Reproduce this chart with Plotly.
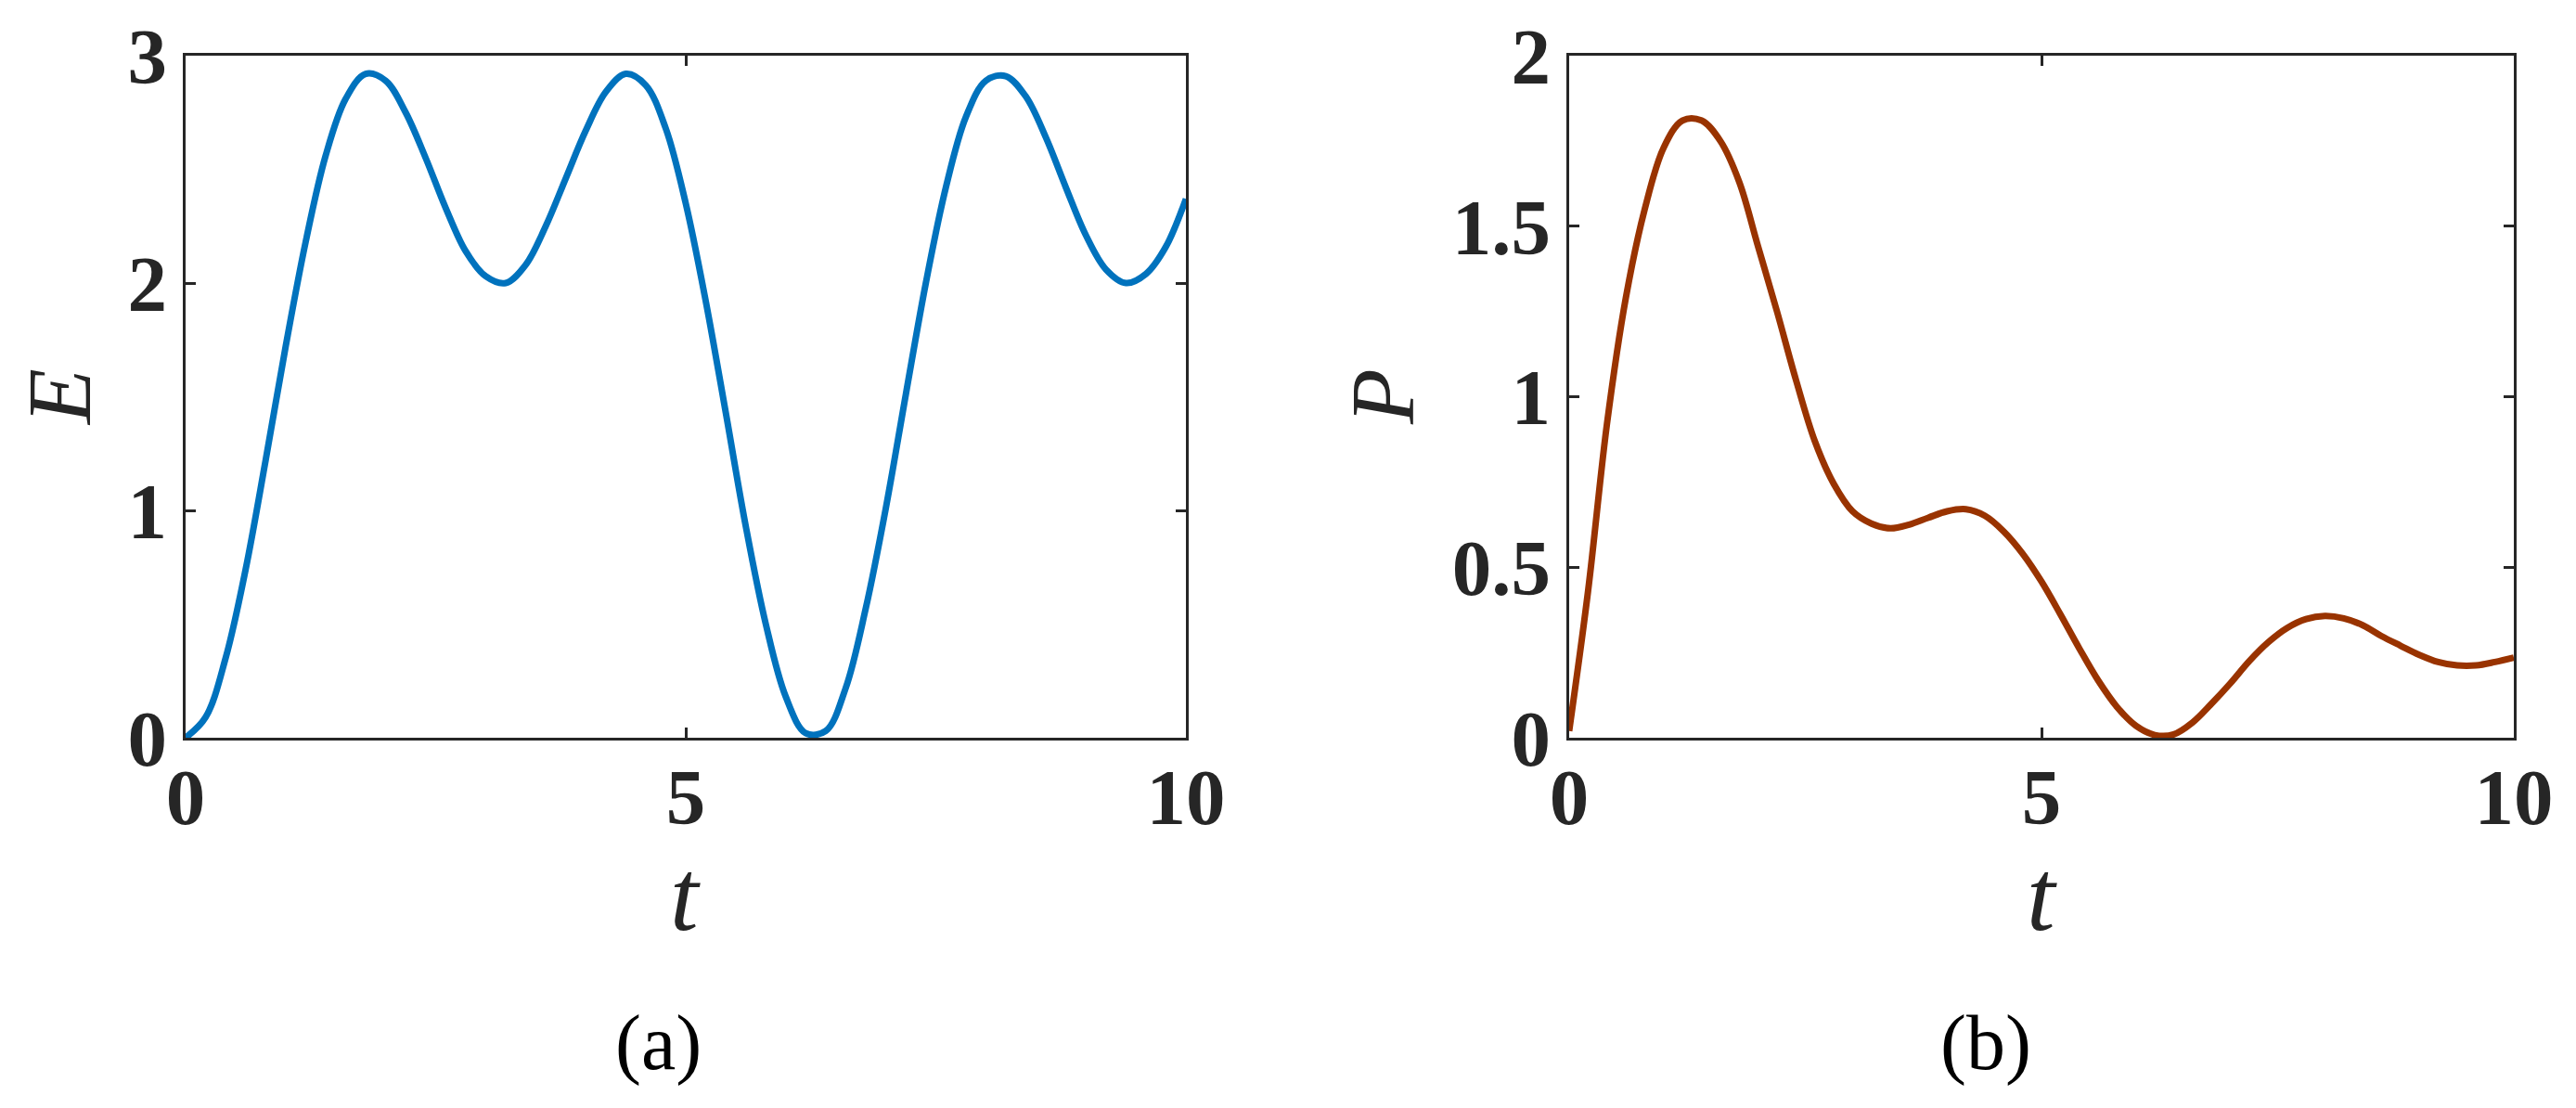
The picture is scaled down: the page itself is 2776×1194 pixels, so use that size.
import plotly.graph_objects as go

# ---- data ----
t_e = [round(0.2 * i, 1) for i in range(51)]
e_vals = [0.00, 0.09, 0.35, 0.74, 1.22, 1.72, 2.18, 2.56, 2.81, 2.92,
          2.89, 2.75, 2.55, 2.33, 2.14, 2.03, 2.00, 2.08, 2.25, 2.46,
          2.67, 2.84, 2.92, 2.87, 2.68, 2.35, 1.92, 1.43, 0.93, 0.50,
          0.18, 0.02, 0.03, 0.22, 0.57, 1.01, 1.51, 2.00, 2.42, 2.73,
          2.89, 2.91, 2.82, 2.64, 2.42, 2.21, 2.06, 2.00, 2.04, 2.16,
          2.37]

t_p = [round(0.2 * i, 1) for i in range(51)]
p_vals = [0.02, 0.43, 0.92, 1.29, 1.55, 1.73, 1.81, 1.81, 1.75, 1.63,
          1.44, 1.25, 1.05, 0.87, 0.745, 0.664, 0.628, 0.614, 0.625, 0.645,
          0.664, 0.670, 0.651, 0.605, 0.54, 0.458, 0.362, 0.262, 0.168, 0.09,
          0.035, 0.008, 0.01, 0.045, 0.10, 0.16, 0.225, 0.28, 0.322, 0.348,
          0.357, 0.350, 0.33, 0.298, 0.27, 0.243, 0.222, 0.212, 0.212, 0.222,
          0.235]

x_ticks = [0, 5, 10]
x_ticklabels = ["0", "5", "10"]
e_ticks = [0, 1, 2, 3]
e_ticklabels = ["0", "1", "2", "3"]
p_ticks = [0, 0.5, 1, 1.5, 2]
p_ticklabels = ["0", "0.5", "1", "1.5", "2"]

# ---- layout constants ----
W, H = 2776, 1194
OFF = 8  # page body margin in the browser
AX = "#262626"
BLUE = "#0072BD"
RUST = "#993300"
SERIF = "Liberation Serif"

def px(x):
    return (x - OFF) / W

def py(y):
    return 1 - (y - OFF) / H

fig = go.Figure()
fig.add_trace(go.Scatter(x=t_e, y=e_vals, mode="lines",
                         line=dict(color=BLUE, width=7, shape="spline", smoothing=1.0),
                         xaxis="x", yaxis="y", showlegend=False, hoverinfo="skip"))
fig.add_trace(go.Scatter(x=t_p, y=p_vals, mode="lines",
                         line=dict(color=RUST, width=7, shape="spline", smoothing=1.0),
                         xaxis="x2", yaxis="y2", showlegend=False, hoverinfo="skip"))

tickfont = dict(family=SERIF, size=85, color=AX, weight="bold")
common = dict(showgrid=False, zeroline=False, showline=True, linecolor=AX, linewidth=3,
              mirror="ticks", ticks="inside", ticklen=11, tickwidth=3, tickcolor=AX,
              tickfont=tickfont, automargin=False)

y_dom = [py(795), py(60)]
fig.update_layout(
    width=W, height=H,
    margin=dict(l=0, r=0, t=0, b=0, autoexpand=False),
    paper_bgcolor="white", plot_bgcolor="white",
    xaxis=dict(domain=[px(200), px(1278)], range=[0, 10], tickvals=x_ticks, ticktext=x_ticklabels,
               anchor="y", ticklabelstandoff=-12, **common),
    yaxis=dict(domain=y_dom, range=[0, 3], tickvals=e_ticks, ticktext=e_ticklabels,
               anchor="x", ticklabelstandoff=0, **common),
    xaxis2=dict(domain=[px(1691), px(2709)], range=[0, 10], tickvals=x_ticks, ticktext=x_ticklabels,
                anchor="y2", ticklabelstandoff=-12, **common),
    yaxis2=dict(domain=y_dom, range=[0, 2], tickvals=p_ticks, ticktext=p_ticklabels,
                anchor="x2", ticklabelstandoff=0, **common),
)

lab = dict(family=SERIF, size=98, color=AX, style="italic")
labt = dict(family=SERIF, size=110, color=AX, style="italic")
cap = dict(family=SERIF, size=84, color="#000000")
annos = [
    dict(text="E", x=px(64), y=py(428), textangle=-90, font=lab),
    dict(text="P", x=px(1490), y=py(428), textangle=-90, font=lab),
    dict(text="t", x=px(738), y=py(965), font=labt),
    dict(text="t", x=px(2200), y=py(965), font=labt),
    dict(text="(a)", x=px(709), y=py(1124), font=cap),
    dict(text="(b)", x=px(2140), y=py(1124), font=cap),
]
for a in annos:
    fig.add_annotation(xref="paper", yref="paper", xanchor="center", yanchor="middle",
                       showarrow=False, **a)

fig.write_html("out.html")
